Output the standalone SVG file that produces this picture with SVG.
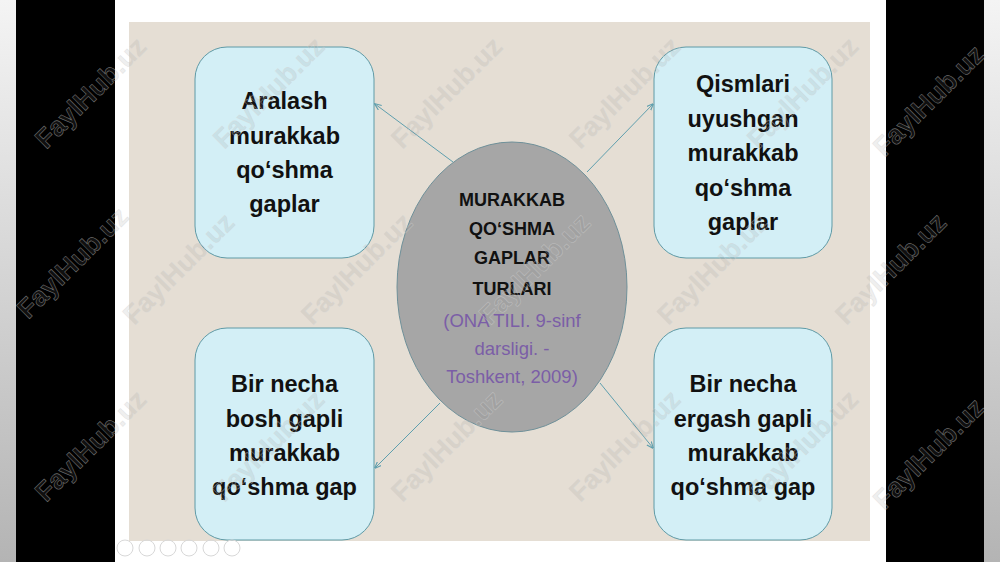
<svg xmlns="http://www.w3.org/2000/svg" width="1000" height="562" viewBox="0 0 1000 562">
<defs>
<linearGradient id="edge" x1="0" y1="0" x2="0" y2="1">
<stop offset="0" stop-color="#f4f4f4"/>
<stop offset="1" stop-color="#b4b4b4"/>
</linearGradient>
<marker id="arr" viewBox="0 0 10 10" refX="9" refY="5" markerWidth="7" markerHeight="7" markerUnits="userSpaceOnUse" orient="auto">
<path d="M0,1 L10,5 L0,9" fill="none" stroke="#5f9fae" stroke-width="1.6"/>
</marker>
<style>
.box{fill:#d3eff6;stroke:#5f9aa6;stroke-width:1}
.bt{font-family:"Liberation Sans",Arial,sans-serif;font-weight:bold;font-size:23.5px;fill:#111;text-anchor:middle}
.et{font-family:"Liberation Sans",Arial,sans-serif;font-weight:bold;font-size:18px;fill:#111;text-anchor:middle}
.pt{font-family:"Liberation Sans",Arial,sans-serif;font-size:18.5px;fill:#7b5ea7;text-anchor:middle}
.con{stroke:#5f9fae;stroke-width:1;fill:none;marker-end:url(#arr)}
.wm{font-family:"Liberation Sans",Arial,sans-serif;font-size:27px;font-weight:bold;fill:#808080;fill-opacity:0.15;stroke:#d4d4d4;stroke-opacity:0.5;stroke-width:0.6;text-anchor:middle}
.ctl{fill:none;stroke:#d8d8d8;stroke-width:1}
</style>
</defs>

<!-- frame -->
<rect x="0" y="0" width="1000" height="562" fill="#ffffff"/>
<rect x="0" y="0" width="16" height="562" fill="url(#edge)"/>
<rect x="984" y="0" width="16" height="562" fill="url(#edge)"/>
<rect x="16" y="0" width="99" height="562" fill="#000000"/>
<rect x="886" y="0" width="98" height="562" fill="#000000"/>
<rect x="129" y="22" width="741" height="519" fill="#e5ded4"/>

<!-- connectors -->
<g id="connectors">
<line class="con" x1="453" y1="162" x2="375" y2="104"/>
<line class="con" x1="587" y1="172" x2="653" y2="104"/>
<line class="con" x1="440" y1="403" x2="375" y2="468"/>
<line class="con" x1="600" y1="383" x2="653" y2="448"/>
</g>

<!-- center -->
<g id="center">
<ellipse cx="512" cy="287" rx="115" ry="145" fill="#a6a6a6" stroke="#6f9099" stroke-width="1"/>
<text class="et" x="512" y="206">MURAKKAB</text>
<text class="et" x="512" y="235">QO‘SHMA</text>
<text class="et" x="512" y="264">GAPLAR</text>
<text class="et" x="512" y="295">TURLARI</text>
<text class="pt" x="512" y="327">(ONA TILI. 9-sinf</text>
<text class="pt" x="512" y="355">darsligi.  -</text>
<text class="pt" x="512" y="383">Toshkent, 2009)</text>
</g>

<g id="node-tl">
<rect class="box" x="195" y="47" width="179" height="211" rx="32"/>
<text class="bt" x="284.5" y="109">Aralash</text>
<text class="bt" x="284.5" y="144">murakkab</text>
<text class="bt" x="284.5" y="178">qo‘shma</text>
<text class="bt" x="284.5" y="212">gaplar</text>
</g>

<g id="node-tr">
<rect class="box" x="654" y="47" width="178" height="211" rx="32"/>
<text class="bt" x="743" y="92">Qismlari</text>
<text class="bt" x="743" y="127">uyushgan</text>
<text class="bt" x="743" y="161">murakkab</text>
<text class="bt" x="743" y="196">qo‘shma</text>
<text class="bt" x="743" y="230">gaplar</text>
</g>

<g id="node-bl">
<rect class="box" x="195" y="328" width="179" height="212" rx="32"/>
<text class="bt" x="284.5" y="392">Bir necha</text>
<text class="bt" x="284.5" y="427">bosh gapli</text>
<text class="bt" x="284.5" y="461">murakkab</text>
<text class="bt" x="284.5" y="495">qo‘shma gap</text>
</g>

<g id="node-br">
<rect class="box" x="654" y="328" width="178" height="212" rx="32"/>
<text class="bt" x="743" y="392">Bir necha</text>
<text class="bt" x="743" y="427">ergash gapli</text>
<text class="bt" x="743" y="461">murakkab</text>
<text class="bt" x="743" y="495">qo‘shma gap</text>
</g>

<!-- slide controls -->
<g id="controls">
<circle class="ctl" cx="125" cy="548" r="8"/>
<circle class="ctl" cx="147" cy="548" r="8"/>
<circle class="ctl" cx="168" cy="548" r="8"/>
<circle class="ctl" cx="189" cy="548" r="8"/>
<circle class="ctl" cx="211" cy="548" r="8"/>
<circle class="ctl" cx="232" cy="548" r="8"/>
</g>

<!-- watermark -->
<g id="watermark">
<text class="wm" transform="translate(90,92) rotate(-45)" y="10">FaylHub.uz</text>
<text class="wm" transform="translate(268,92) rotate(-45)" y="10">FaylHub.uz</text>
<text class="wm" transform="translate(446,92) rotate(-45)" y="10">FaylHub.uz</text>
<text class="wm" transform="translate(624,92) rotate(-45)" y="10">FaylHub.uz</text>
<text class="wm" transform="translate(802,92) rotate(-45)" y="10">FaylHub.uz</text>
<text class="wm" transform="translate(928,100) rotate(-45)" y="10">FaylHub.uz</text>
<text class="wm" transform="translate(72,262) rotate(-45)" y="10">FaylHub.uz</text>
<text class="wm" transform="translate(178,268) rotate(-45)" y="10">FaylHub.uz</text>
<text class="wm" transform="translate(356,268) rotate(-45)" y="10">FaylHub.uz</text>
<text class="wm" transform="translate(534,268) rotate(-45)" y="10">FaylHub.uz</text>
<text class="wm" transform="translate(712,268) rotate(-45)" y="10">FaylHub.uz</text>
<text class="wm" transform="translate(890,268) rotate(-45)" y="10">FaylHub.uz</text>
<text class="wm" transform="translate(90,445) rotate(-45)" y="10">FaylHub.uz</text>
<text class="wm" transform="translate(268,445) rotate(-45)" y="10">FaylHub.uz</text>
<text class="wm" transform="translate(446,445) rotate(-45)" y="10">FaylHub.uz</text>
<text class="wm" transform="translate(624,445) rotate(-45)" y="10">FaylHub.uz</text>
<text class="wm" transform="translate(802,445) rotate(-45)" y="10">FaylHub.uz</text>
<text class="wm" transform="translate(928,453) rotate(-45)" y="10">FaylHub.uz</text>
</g>
</svg>
